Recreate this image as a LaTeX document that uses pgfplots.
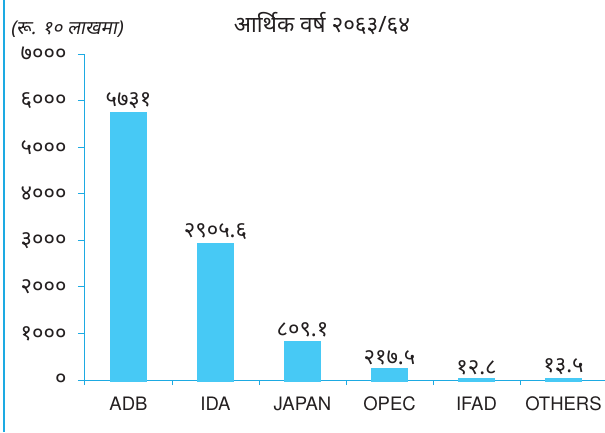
\documentclass[border=0pt]{standalone}
\usepackage{fontspec}
\usepackage{pgfplots}
\pgfplotsset{compat=1.18}
\setmainfont{TeX Gyre Heros}
\newfontfamily\dev[Script=Devanagari]{Noto Sans}
\newfontfamily\devit[Script=Devanagari,FakeSlant=0.2]{Noto Sans}
\definecolor{axiscol}{RGB}{29,170,226}
\definecolor{barcol}{RGB}{71,201,245}
\definecolor{txt}{RGB}{35,31,32}
\begin{document}
\begin{tikzpicture}
\path[use as bounding box] (0,0) rectangle (605pt,432pt);
\draw[axiscol, line width=1.2pt] (4pt,0) -- (4pt,432pt);
\node[anchor=center, text=txt, font=\dev\fontsize{22.5}{22.5}\selectfont] at (322pt,408pt) {आर्थिक वर्ष २०६३/६४};
\node[anchor=west, text=txt, font=\devit\fontsize{19}{19}\selectfont] at (7pt,403pt) {(रू. १० लाखमा)};
\begin{axis}[
  at={(85pt,52pt)}, anchor=south west,
  scale only axis, width=522pt, height=326pt,
  xmin=-0.5, xmax=5.5, ymin=0, ymax=7000,
  axis x line=bottom, axis y line=left,
  axis line style={-, axiscol, line width=1pt},
  ytick={0,1000,2000,3000,4000,5000,6000,7000},
  yticklabels={०,१०००,२०००,३०००,४०००,५०००,६०००,७०००},
  yticklabel style={font=\dev\fontsize{22}{22}\selectfont, text=txt, xshift=-8pt},
  xtick={0,1,2,3,4,5},
  xticklabels={ADB,IDA,JAPAN,OPEC,IFAD,OTHERS},
  xticklabel style={font=\fontsize{18.5}{18.5}\selectfont, text=txt, yshift=-6pt},
  minor xtick={-0.5,0.5,1.5,2.5,3.5,4.5,5.5},
  major x tick style={draw=none},
  tick style={axiscol, line width=1pt},
  tick align=outside,
  major tick length=7pt, minor tick length=5pt,
  ybar, bar width=34pt, bar shift=0pt,
  clip=false,
  point meta=explicit symbolic,
  nodes near coords,
  every node near coord/.append style={font=\dev\fontsize{22}{22}\selectfont, text=txt, yshift=0pt},
]
\addplot[fill=barcol, draw=barcol, line width=3pt] coordinates {
  (0,5731) [५७३१]
  (1,2905.6) [२९०५.६]
  (2,809.1) [८०९.१]
  (3,217.5) [२१७.५]
  (4,12.8) [१२.८]
  (5,13.5) [१३.५]
};
\end{axis}
\end{tikzpicture}
\end{document}
